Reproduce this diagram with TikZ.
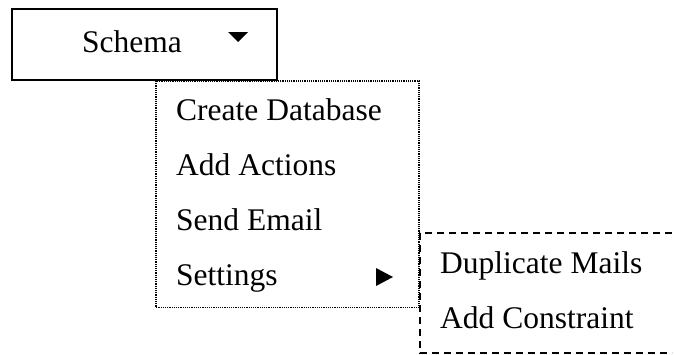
\documentclass[tikz,border=0pt]{standalone}
\usepackage{fontspec}
\setmainfont{Liberation Serif}
\tikzset{
  menutext/.style={anchor=base west, inner sep=0pt, font=\fontsize{31.5}{36}\selectfont},
  solidbox/.style={draw=black, line width=2pt},
  dotbox/.style={draw=black, line width=1.2pt, dash pattern=on 1.2pt off 1pt},
  dashbox/.style={draw=black, line width=1.3pt, dash pattern=on 7pt off 5pt},
  tri/.style={fill=black}
}
\begin{document}
\begin{tikzpicture}[x=1pt,y=-1pt]
\useasboundingbox (0,0) rectangle (674,354);
% Schema button
\draw[solidbox] (12,9) rectangle (277,80);
\node[menutext] (schema) at (82,52) {Schema};
\fill[tri] (228,32) -- (248,32) -- (238,42) -- cycle;
% main dropdown
\draw[dotbox] (156,81) rectangle (419,307.5);
\node[menutext] (create) at (176,120.5) {Create Database};
\node[menutext] (actions) at (176,175) {Add Actions};
\node[menutext] (email) at (176,230.5) {Send Email};
\node[menutext] (settings) at (176,285.5) {Settings};
\fill[tri] (376,268) -- (393,277) -- (376,286) -- cycle;
% submenu
\draw[dashbox] (672,233) -- (420,233) -- (420,353) -- (672,353);
\node[menutext] (dup) at (440,273.5) {Duplicate Mails};
\node[menutext] (constraint) at (440,328.5) {Add Constraint};
\end{tikzpicture}
\end{document}
